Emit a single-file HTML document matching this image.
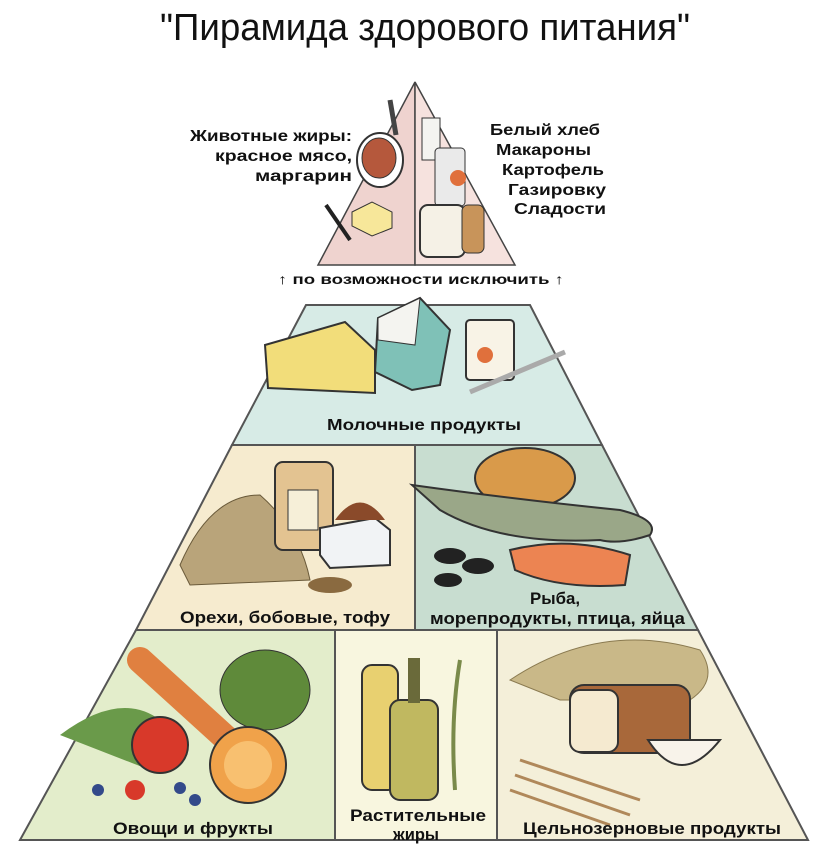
<!DOCTYPE html>
<html><head><meta charset="utf-8"><style>
html,body{margin:0;padding:0;background:#fff;}
svg{display:block;}
text{font-family:"Liberation Sans","DejaVu Sans",sans-serif;}
</style></head><body>
<svg width="825" height="856" viewBox="0 0 825 856" xmlns="http://www.w3.org/2000/svg">
<rect width="825" height="856" fill="#fff"/>
<text x="160" y="40" font-size="38" textLength="530" lengthAdjust="spacingAndGlyphs" fill="#111">"Пирамида здорового питания"</text>

<!-- top triangle -->
<polygon points="415,82 318,265 415,265" fill="#efd3cf" stroke="#444" stroke-width="1.5"/>
<polygon points="415,82 515,265 415,265" fill="#f6e2de" stroke="#444" stroke-width="1.5"/>
<ellipse cx="380" cy="160" rx="23" ry="27" fill="#fff" stroke="#333" stroke-width="2"/>
<ellipse cx="379" cy="158" rx="17" ry="20" fill="#b5583c" stroke="#333"/>
<path d="M390,100 L396,135" stroke="#444" stroke-width="5"/>
<polygon points="352,212 372,202 392,212 392,228 372,236 352,226" fill="#f7e79a" stroke="#333"/>
<path d="M326,205 L350,240" stroke="#222" stroke-width="4"/>
<rect x="422" y="118" width="18" height="42" fill="#f4f4f0" stroke="#333"/>
<rect x="435" y="148" width="30" height="58" rx="4" fill="#eaeaea" stroke="#333"/>
<circle cx="458" cy="178" r="8" fill="#e0703c"/>
<rect x="420" y="205" width="45" height="52" rx="8" fill="#f5f1e6" stroke="#333" stroke-width="2"/>
<rect x="462" y="205" width="22" height="48" rx="6" fill="#c8945a" stroke="#333"/>

<g font-weight="bold" font-size="16" fill="#111">
<text x="190" y="141" textLength="162" lengthAdjust="spacingAndGlyphs">Животные жиры:</text>
<text x="215" y="161" textLength="137" lengthAdjust="spacingAndGlyphs">красное мясо,</text>
<text x="255" y="181" textLength="97" lengthAdjust="spacingAndGlyphs">маргарин</text>
<text x="490" y="135" textLength="110" lengthAdjust="spacingAndGlyphs">Белый хлеб</text>
<text x="496" y="155" textLength="95" lengthAdjust="spacingAndGlyphs">Макароны</text>
<text x="502" y="175" textLength="102" lengthAdjust="spacingAndGlyphs">Картофель</text>
<text x="508" y="195" textLength="98" lengthAdjust="spacingAndGlyphs">Газировку</text>
<text x="514" y="214" textLength="92" lengthAdjust="spacingAndGlyphs">Сладости</text>
<text x="278" y="284" font-size="14" textLength="286" lengthAdjust="spacingAndGlyphs">↑ по возможности исключить ↑</text>
</g>

<!-- dairy tier -->
<polygon points="306,305 530,305 602,445 232,445" fill="#d7ebe6" stroke="#555" stroke-width="2"/>
<polygon points="265,345 345,322 375,350 375,393 268,388" fill="#f2dd7a" stroke="#333" stroke-width="2"/>
<polygon points="378,318 420,298 450,330 440,385 412,390 375,372" fill="#7fc1b7" stroke="#333" stroke-width="2"/>
<polygon points="378,318 420,298 415,345 378,340" fill="#f4f4f0" stroke="#333"/>
<rect x="466" y="320" width="48" height="60" rx="4" fill="#f8f3e6" stroke="#333" stroke-width="2"/>
<circle cx="485" cy="355" r="8" fill="#e0703c"/>
<path d="M470,392 L565,352" stroke="#aaa" stroke-width="5"/>
<text x="327" y="430" font-weight="bold" font-size="16" textLength="194" lengthAdjust="spacingAndGlyphs" fill="#111">Молочные продукты</text>

<!-- tier 3 -->
<polygon points="232,445 415,445 415,630 136,630" fill="#f6ebcf" stroke="#555" stroke-width="2"/>
<polygon points="415,445 602,445 698,630 415,630" fill="#c8ddd0" stroke="#555" stroke-width="2"/>
<path d="M180,565 Q210,495 260,495 Q300,530 310,580 L190,585 Z" fill="#b9a47a" stroke="#6a5a3a"/>
<rect x="275" y="462" width="58" height="88" rx="8" fill="#e3c391" stroke="#333" stroke-width="2"/>
<rect x="288" y="490" width="30" height="40" fill="#f6efd8" stroke="#333"/>
<polygon points="320,528 375,518 390,530 390,565 330,568 320,555" fill="#f1f3f5" stroke="#333" stroke-width="2"/>
<path d="M335,520 Q360,485 385,520 Z" fill="#8a4a2a"/>
<ellipse cx="330" cy="585" rx="22" ry="8" fill="#8a6a40"/>
<text x="180" y="623" font-weight="bold" font-size="17" textLength="210" lengthAdjust="spacingAndGlyphs" fill="#111">Орехи, бобовые, тофу</text>
<ellipse cx="525" cy="478" rx="50" ry="30" fill="#d99a4a" stroke="#333" stroke-width="2"/>
<path d="M412,485 Q520,500 620,510 Q660,520 650,535 Q620,545 600,540 Q500,545 440,510 Z" fill="#9aa788" stroke="#333" stroke-width="2"/>
<path d="M510,550 Q570,535 630,555 L625,585 Q560,590 515,570 Z" fill="#ec8452" stroke="#333" stroke-width="2"/>
<ellipse cx="450" cy="556" rx="16" ry="8" fill="#222"/>
<ellipse cx="478" cy="566" rx="16" ry="8" fill="#222"/>
<ellipse cx="448" cy="580" rx="14" ry="7" fill="#222"/>
<text x="530" y="604" font-weight="bold" font-size="17" textLength="50" lengthAdjust="spacingAndGlyphs" fill="#111">Рыба,</text>
<text x="430" y="624" font-weight="bold" font-size="17" textLength="255" lengthAdjust="spacingAndGlyphs" fill="#111">морепродукты, птица, яйца</text>

<!-- tier 4 -->
<polygon points="136,630 335,630 335,840 20,840" fill="#e3edcb" stroke="#555" stroke-width="2"/>
<polygon points="335,630 497,630 497,840 335,840" fill="#f8f6df" stroke="#555" stroke-width="2"/>
<polygon points="497,630 698,630 808,840 497,840" fill="#f4efd9" stroke="#555" stroke-width="2"/>
<ellipse cx="265" cy="690" rx="45" ry="40" fill="#5f8a3a" stroke="#333"/>
<path d="M140,660 L250,760" stroke="#e08040" stroke-width="26" stroke-linecap="round"/>
<path d="M60,735 Q120,690 160,720 L150,770 Z" fill="#6a9a4a"/>
<circle cx="160" cy="745" r="28" fill="#d8392a" stroke="#333" stroke-width="2"/>
<circle cx="248" cy="765" r="38" fill="#f0a24a" stroke="#333" stroke-width="2"/>
<circle cx="248" cy="765" r="24" fill="#f8c070"/>
<circle cx="135" cy="790" r="10" fill="#d8392a"/>
<circle cx="98" cy="790" r="6" fill="#334a8a"/><circle cx="180" cy="788" r="6" fill="#334a8a"/><circle cx="195" cy="800" r="6" fill="#334a8a"/>
<text x="113" y="834" font-weight="bold" font-size="17" textLength="160" lengthAdjust="spacingAndGlyphs" fill="#111">Овощи и фрукты</text>
<rect x="362" y="665" width="36" height="125" rx="10" fill="#e8d070" stroke="#333" stroke-width="2"/>
<rect x="390" y="700" width="48" height="100" rx="10" fill="#c0b860" stroke="#333" stroke-width="2"/>
<rect x="408" y="658" width="12" height="45" fill="#6a6a3a"/>
<path d="M460,660 Q450,720 455,790" stroke="#7a8a4a" stroke-width="4" fill="none"/>
<text x="350" y="821" font-weight="bold" font-size="17" textLength="136" lengthAdjust="spacingAndGlyphs" fill="#111">Растительные</text>
<text x="393" y="840" font-weight="bold" font-size="17" textLength="46" lengthAdjust="spacingAndGlyphs" fill="#111">жиры</text>
<path d="M510,680 Q600,620 700,650 Q720,680 690,700 L560,700 Z" fill="#c9b888" stroke="#8a7a50"/>
<rect x="570" y="685" width="120" height="68" rx="14" fill="#a8683a" stroke="#333" stroke-width="2"/>
<rect x="570" y="690" width="48" height="62" rx="10" fill="#f5ead0" stroke="#333" stroke-width="2"/>
<path d="M648,740 Q680,790 720,740 Z" fill="#f8f3ea" stroke="#333" stroke-width="2"/>
<path d="M520,760 L640,800 M515,775 L630,815 M510,790 L610,825" stroke="#b0885a" stroke-width="3"/>
<text x="523" y="834" font-weight="bold" font-size="17" textLength="258" lengthAdjust="spacingAndGlyphs" fill="#111">Цельнозерновые продукты</text>
</svg>
</body></html>
